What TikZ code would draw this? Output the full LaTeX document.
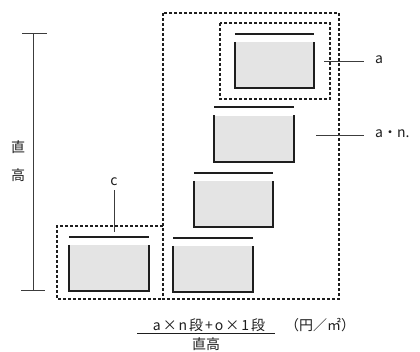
\documentclass[tikz,border=0pt]{standalone}
\usepackage{fontspec}
\setmainfont{Noto Sans CJK JP}
\newfontfamily\spacedfont[LetterSpace=14]{Noto Sans CJK JP}
\usetikzlibrary{calc}
\definecolor{boxfill}{RGB}{228,228,228}
\definecolor{ink}{RGB}{30,30,30}
\definecolor{dimgray}{RGB}{60,60,60}
\tikzset{
  tray/.style={fill=boxfill, draw=none, minimum width=79pt, minimum height=46pt, inner sep=0pt},
  trayline/.style={draw=ink, line width=2pt},
  dotbox/.style={draw=ink, line width=1.8pt, dash pattern=on 3pt off 2pt},
  leader/.style={draw=dimgray, line width=1pt},
  lbl/.style={font=\fontsize{14}{16}\selectfont, text=ink, inner sep=0pt},
}
\newcommand{\trayshape}[1]{%
  \draw[trayline] (#1.north west) -- (#1.south west) -- (#1.south east) -- (#1.north east);
  \draw[trayline] ($(#1.north west)+(0,-8)$) -- ($(#1.north east)+(0,-8)$);
}
\begin{document}
\begin{tikzpicture}[x=1pt,y=-1pt]
\useasboundingbox (0,0) rectangle (420,351);
% trays
\node[tray] (ta) at (274.5,65) {};
\node[tray] (tb) at (254,138.5) {};
\node[tray] (tc) at (233.5,204) {};
\node[tray] (td) at (213,269) {};
\node[tray] (te) at (109,268) {};
\foreach \t in {ta,tb,tc,td,te} {\trayshape{\t}}
% dashed boxes
\draw[dotbox] (163,13) rectangle (339,299);
\draw[dotbox] (163,226) -- (57,226) -- (57,299) -- (163,299);
\draw[dotbox] (220,23) rectangle (330,99);
% dimension line
\coordinate (dt) at (33,33);
\coordinate (db) at (33,290);
\draw[leader] (dt) -- (db);
\draw[leader] (22,33) -- (47,33);
\draw[leader] (21,290) -- (45,290);
\node[lbl] (h1) at (18,147) {直};
\node[lbl] (h2) at (18,175) {高};
% leaders and labels
\node[lbl, anchor=west] (la) at (375,60) {a};
\coordinate (la0) at (324,61);
\draw[leader] (la0) -- (364,61);
\node[lbl, anchor=west] (lan) at (375,134) {a・n.};
\coordinate (lan0) at (316,135);
\draw[leader] (lan0) -- (364,135);
\node[lbl] (lc) at (114,182) {c};
\coordinate (lc0) at (114,190);
\coordinate (lc1) at (114,232);
\draw[leader] (lc0) -- (lc1);
% formula
\node[lbl] (num) at (209,325) {\spacedfont a×n段+o×1段};
\node[lbl] (den) at (206,344) {直高};
\node[lbl, anchor=west] (unit) at (285,325) {（円／㎡）};
\coordinate (f1) at (137,333);
\coordinate (f2) at (275,333);
\draw[draw=ink, line width=0.9pt] (f1) -- (f2);
\end{tikzpicture}
\end{document}
